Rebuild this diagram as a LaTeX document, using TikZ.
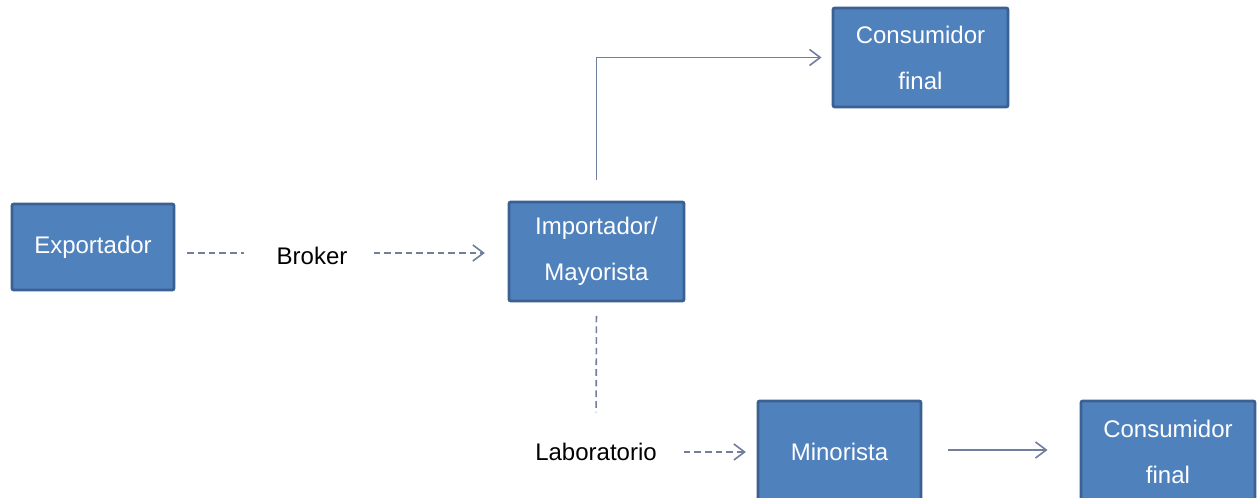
\documentclass[tikz,border=0pt]{standalone}
\usepackage{fontspec}
\setmainfont{Liberation Sans}
\usetikzlibrary{arrows.meta}
\definecolor{boxfill}{HTML}{4F81BD}
\definecolor{boxline}{HTML}{3A6192}
\definecolor{linkc}{HTML}{6F7F9C}
\tikzset{
  boxnode/.style={draw=boxline, line width=2.2pt, fill=boxfill, text=white, rounded corners=1.5pt,
    align=center, font=\fontsize{18}{34.5}\selectfont, inner sep=0pt},
  plaintext/.style={text=black, font=\fontsize{18}{22}\selectfont, inner sep=0pt},
  link/.style={draw=linkc, line width=1.2pt},
  dashlink/.style={link, dash pattern=on 5pt off 3pt},
  tip/.style={-{Straight Barb[length=8pt,width=12pt,line width=1.2pt]}}
}
\begin{document}
\begin{tikzpicture}[x=0.75pt,y=-0.75pt]
\useasboundingbox (0,0) rectangle (1257,498);
\clip (0,0) rectangle (1257,498);
\node[boxnode, minimum width=162*0.75pt, minimum height=86*0.75pt] (exp) at (93,247) {Exportador};
\node[boxnode, minimum width=175*0.75pt, minimum height=99*0.75pt] (imp) at (596.5,251.5) {Importador/\\Mayorista};
\node[boxnode, minimum width=175*0.75pt, minimum height=99*0.75pt] (cons1) at (920.5,57.5) {Consumidor\\final};
\node[boxnode, minimum width=163*0.75pt, minimum height=102*0.75pt] (min) at (839.5,452) {Minorista};
\node[boxnode, minimum width=174*0.75pt, minimum height=102*0.75pt] (cons2) at (1168,452) {Consumidor\\final};
\node[plaintext] (broker) at (312,256) {Broker};
\node[plaintext] (lab) at (596,452) {Laboratorio};
% connectors
\draw[dashlink, shorten <=9pt, shorten >=24pt] (exp.east |- 0,253) -- (broker.west |- 0,253);
\draw[dashlink, tip, shorten <=19.5pt, shorten >=17pt] (broker.east |- 0,253) -- (imp.west |- 0,253);
\draw[link, tip] ([yshift=21*0.75pt]imp.north) |- ([xshift=-10*0.75pt]cons1.west);
\draw[dashlink, shorten <=10pt, shorten >=23pt] (imp.south) -- (lab.north);
\draw[dashlink, tip, shorten <=20pt, shorten >=8pt] (lab.east) -- (min.west);
\draw[link, tip, shorten <=19.5pt, shorten >=24pt] (min.east |- 0,450) -- (cons2.west |- 0,450);
\end{tikzpicture}
\end{document}
